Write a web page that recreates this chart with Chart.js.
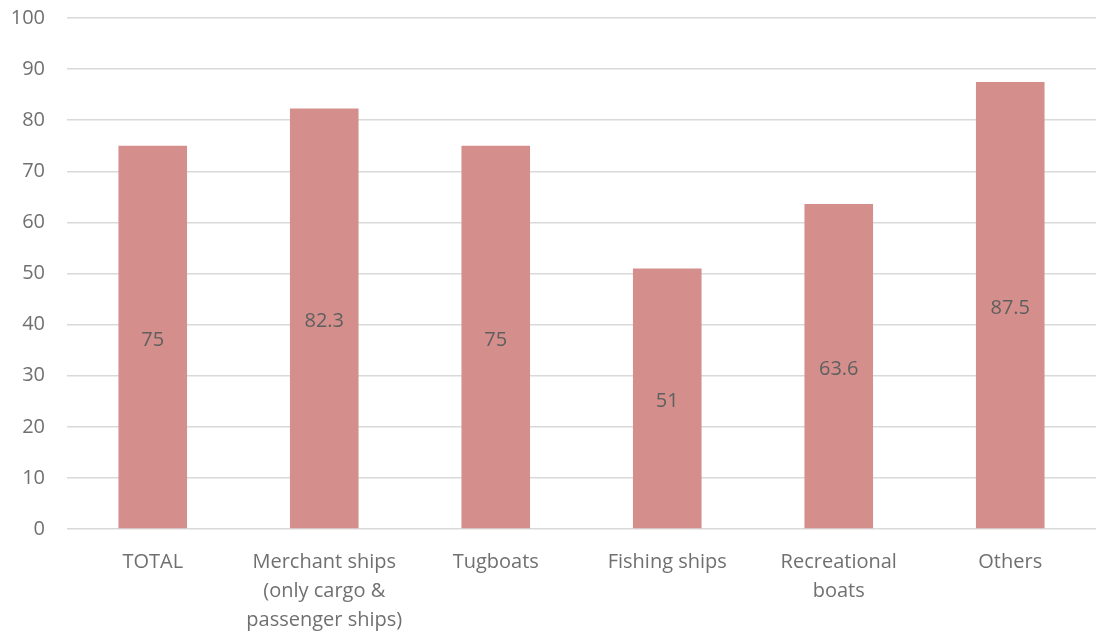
<!DOCTYPE html>
<html>
<head>
<meta charset="utf-8">
<script src="https://cdn.jsdelivr.net/npm/chart.js@4"></script>
<style>
  html, body { margin: 0; padding: 0; background: #fff; }
  #wrap { width: 1096px; height: 633px; }
</style>
</head>
<body>
<div id="wrap"><canvas id="c"></canvas></div>
<script>
const categories = [
  'TOTAL',
  ['Merchant ships', '(only cargo &', 'passenger ships)'],
  'Tugboats',
  'Fishing ships',
  ['Recreational', 'boats'],
  'Others'
];
const values = [75, 82.3, 75, 51, 63.6, 87.5];
const yTicks = [0, 10, 20, 30, 40, 50, 60, 70, 80, 90, 100];

const FONT = "'Open Sans', 'Noto Sans', sans-serif";

// labels in the middle of every bar
const midLabels = {
  id: 'midLabels',
  afterDatasetsDraw(chart) {
    const ctx = chart.ctx;
    const meta = chart.getDatasetMeta(0);
    ctx.save();
    ctx.font = '20px ' + FONT;
    ctx.fillStyle = '#5f5f5f';
    ctx.textAlign = 'center';
    ctx.textBaseline = 'middle';
    meta.data.forEach((bar, i) => {
      const y = (bar.y + bar.base) / 2 + 3;
      ctx.fillText(String(values[i]), bar.x, y);
    });
    ctx.restore();
  }
};

new Chart(document.getElementById('c'), {
  type: 'bar',
  data: {
    labels: categories,
    datasets: [{
      data: values,
      backgroundColor: '#d48f8d',
      categoryPercentage: 0.4,
      barPercentage: 1
    }]
  },
  options: {
    responsive: true,
    maintainAspectRatio: false,
    animation: false,
    layout: { padding: { top: 18, right: 0, bottom: 0, left: 0 } },
    plugins: { legend: { display: false }, tooltip: { enabled: false } },
    scales: {
      x: {
        grid: { display: false, drawTicks: false },
        border: { display: false },
        ticks: {
          color: '#707070',
          font: { family: FONT, size: 20, lineHeight: 1.45 },
          padding: 19,
          maxRotation: 0,
          autoSkip: false
        },
        afterFit: s => { s.height = 104; }
      },
      y: {
        min: 0,
        max: 100,
        afterBuildTicks: s => { s.ticks = yTicks.map(v => ({ value: v })); },
        grid: { color: '#d9d9d9', lineWidth: 1.5, drawTicks: false },
        border: { display: false },
        ticks: {
          color: '#707070',
          font: { family: FONT, size: 20 },
          padding: 22
        },
        afterFit: s => { s.width = 67; s.paddingTop = 0; s.paddingBottom = 0; }
      }
    }
  },
  plugins: [midLabels]
});
</script>
</body>
</html>
